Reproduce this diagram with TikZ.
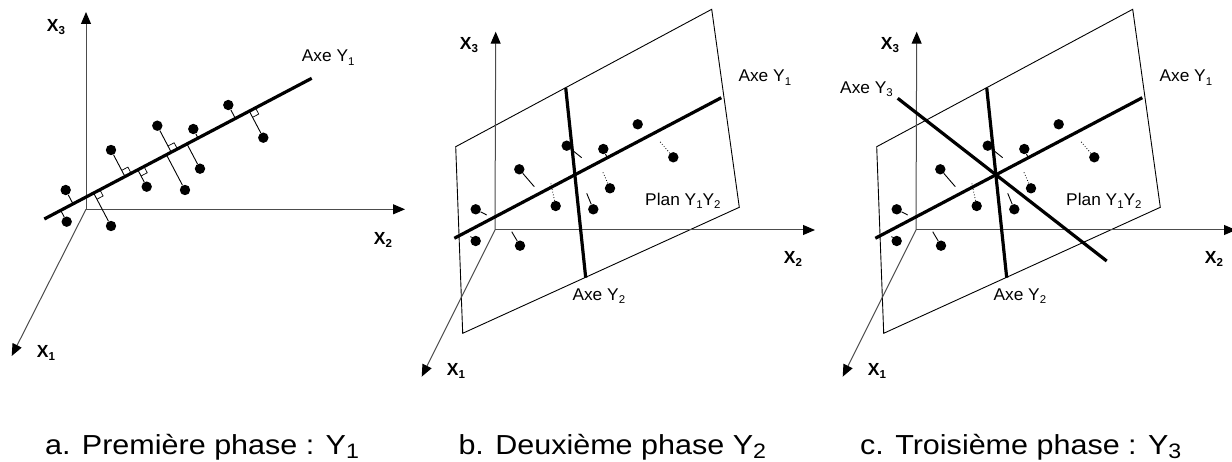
\documentclass[tikz,border=0pt]{standalone}
\usepackage{fontspec}
\setmainfont{Liberation Sans}
\usetikzlibrary{calc,arrows.meta}
\newcommand\sbs[1]{\raisebox{-0.18em}{\scalebox{0.66}{#1}}}
\newcommand\csb[1]{\raisebox{-0.14em}{\scalebox{0.76}{#1}}}
\newcommand\rang[3]{\draw[marker] ($(#1)!7pt!(#2)$) -- ($($(#1)!7pt!(#2)$)+($(#1)!7pt!(#3)$)-(#1)$) -- ($(#1)!7pt!(#3)$);}
\tikzset{
  ax/.style={draw=black!70, line width=1pt, -{Triangle[length=12pt,width=10pt,color=black,fill=black]}},
  thick axis/.style={draw=black, line width=3.2pt},
  plane/.style={draw=black, line width=0.9pt},
  dot/.style={circle, fill=black, inner sep=0pt, minimum size=10.4pt},
  drop/.style={draw=black, line width=0.9pt},
  dropdot/.style={draw=black, line width=0.8pt, dotted},
  marker/.style={draw=black, line width=0.7pt},
  lbl/.style={font=\fontsize{17}{20}\selectfont, inner sep=0pt, xscale=1.02},
  axl/.style={font=\bfseries\fontsize{17.5}{20}\selectfont, inner sep=0pt},
  capt/.style={font=\fontsize{27.5}{32}\selectfont, inner sep=0pt, xscale=1.11, anchor=base west},
}
\newcommand\planepanel{%
  % plane
  \coordinate (p1) at (455.7,146.7);
  \coordinate (p2) at (711.7,9.3);
  \coordinate (p3) at (739.3,207.3);
  \coordinate (p4) at (462.7,333.3);
  \draw[plane] (p1) -- (p2) -- (p3) -- (p4) -- cycle;
  % axes
  \coordinate (O) at (495,230);
  \coordinate (x3) at (495.7,31.7);
  \coordinate (x2) at (815,230);
  \coordinate (x1) at (421.7,376.7);
  \draw[ax] (O) -- (x3);
  \draw[ax] (O) -- (x2);
  \draw[ax] (O) -- (x1);
  \node[axl] (lx3) at (469,45) {X\sbs{3}};
  \node[axl] (lx2) at (793,259) {X\sbs{2}};
  \node[axl] (lx1) at (456,371) {X\sbs{1}};
  % dots
  \node[dot] (d1) at (475.7,209.3) {};
  \node[dot] (d2) at (475.7,241) {};
  \node[dot] (d3) at (520,245.7) {};
  \node[dot] (d4) at (519.3,169.3) {};
  \node[dot] (d5) at (555.7,206) {};
  \node[dot] (d6) at (566.7,145.7) {};
  \node[dot] (d7) at (593.3,209.3) {};
  \node[dot] (d8) at (603.3,149) {};
  \node[dot] (d9) at (610,188.3) {};
  \node[dot] (d10) at (637.7,124.3) {};
  \node[dot] (d11) at (673.3,157.3) {};
  \coordinate (e1) at (486.7,215);
  \coordinate (e2) at (470.5,236.5);
  \coordinate (e3) at (511.7,231.7);
  \coordinate (e4) at (534.3,186.7);
  \coordinate (e5) at (550.7,182.7);
  \coordinate (e6) at (581.7,157.7);
  \coordinate (e7) at (586.7,193.3);
  \coordinate (e8) at (606.7,156.7);
  \coordinate (e9) at (602.7,171.7);
  \coordinate (e11) at (660,141.7);
  \draw[drop] (d1) -- (e1);
  \draw[drop] (d2) -- (e2);
  \draw[drop] (d3) -- (e3);
  \draw[drop] (d4) -- (e4);
  \draw[dropdot] (d5) -- (e5);
  \draw[drop] (d6) -- (e6);
  \draw[drop] (d7) -- (e7);
  \draw[drop] (d8) -- (e8);
  \draw[dropdot] (d9) -- (e9);
  \draw[dropdot] (d11) -- (e11);
  % principal axes
  \coordinate (y1s) at (454.3,238.3);
  \coordinate (y1e) at (721.3,97.7);
  \coordinate (y2s) at (565.7,87.7);
  \coordinate (y2e) at (585.7,277.7);
  \draw[thick axis] (y1s) -- (y1e);
  \draw[thick axis] (y2s) -- (y2e);
  \node[lbl, anchor=base west] (ly1) at (738.3,82) {Axe Y\sbs{1}};
  \node[lbl, anchor=base west] (lpl) at (645,205.5) {Plan Y\sbs{1}Y\sbs{2}};
  \node[lbl, anchor=base west] (ly2) at (572.3,300.5) {Axe Y\sbs{2}};
}
\begin{document}
\begin{tikzpicture}[x=1pt,y=-1pt]
\useasboundingbox (0,0) rectangle (1232,462);
% ---------------- panel a ----------------
\coordinate (aO) at (86,209.3);
\coordinate (ax3) at (86,12);
\coordinate (ax2) at (405,209.3);
\coordinate (ax1) at (11.7,356);
\draw[ax] (aO) -- (ax3);
\draw[ax] (aO) -- (ax2);
\draw[ax] (aO) -- (ax1);
\node[axl] (alx3) at (56,27) {X\sbs{3}};
\node[axl] (alx2) at (383,240) {X\sbs{2}};
\node[axl] (alx1) at (46,353) {X\sbs{1}};
\coordinate (aA) at (44.3,219);
\coordinate (aB) at (311.7,78.3);
\node[lbl, anchor=base west] (aly1) at (301.7,62) {Axe Y\sbs{1}};
\foreach \n/\px/\py in {1/65.7/190, 2/66.7/221.7, 3/111/150, 4/111/226, 5/146.7/186.7, 6/157.3/125.7, 7/185/190, 8/193.3/129, 9/228.3/105, 10/263.3/137.7, 11/200/168.7}{
  \node[dot] (a\n) at (\px,\py) {};
  \coordinate (af\n) at ($(aA)!(a\n)!(aB)$);
  \draw[drop] (a\n) -- (af\n);
}
\foreach \n in {3,4,5,6,10}{ \rang{af\n}{a\n}{aB} }
\draw[thick axis] (aA) -- (aB);
% ---------------- panel b ----------------
\begin{scope}[name prefix=b-]
\planepanel
\end{scope}
% ---------------- panel c ----------------
\begin{scope}[xshift=421pt, name prefix=c-]
\planepanel
\coordinate (y3s) at (476.7,98.3);
\coordinate (y3e) at (685.7,261);
\draw[thick axis] (y3s) -- (y3e);
\node[lbl, anchor=base west] (ly3) at (419,93.5) {Axe Y\sbs{3}};
\end{scope}
% ---------------- captions ----------------
\node[capt] (capa) at (45,454.5) {a. Première phase : Y\csb{1}};
\node[capt] (capb) at (458.3,454.5) {b. Deuxième phase Y\csb{2}};
\node[capt] (capc) at (860,454.5) {c. Troisième phase : Y\csb{3}};
\end{tikzpicture}
\end{document}
